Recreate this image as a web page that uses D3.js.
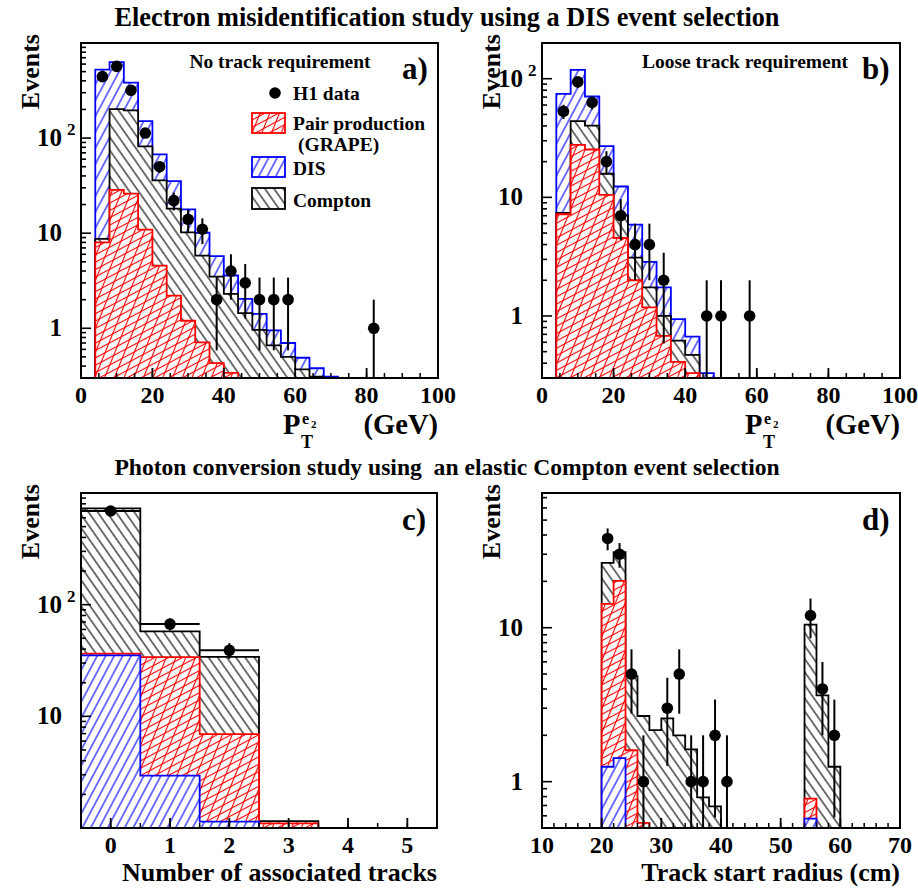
<!DOCTYPE html>
<html><head><meta charset="utf-8">
<script src="https://cdn.jsdelivr.net/npm/d3@7"></script>
<style>
body{margin:0;background:#fff}
text{font-family:"Liberation Serif","Times New Roman",serif;font-weight:bold;fill:#000}
</style>
</head><body>
<svg id="chart" width="918" height="890"></svg>
<script>
// ---------------- DATA ----------------
// Panel a: no track requirement, P_T of second electron (GeV), bins of 4 GeV
const aBinLo   = [4,8,12,16,20,24,28,32,36,40,44,48,52,56,60,64,68];
const aPair    = [8.0,28.6,26,10.9,4.57,2.21,1.2,0.71,0.43,0.34,0,0,0,0,0,0,0];
const aCompton = [0.7,173,170,71,31.3,15.9,9.0,5.1,3.07,1.96,1.44,0.96,0.66,0.5,0.37,0.31,0];
const aDIS     = [516,428,187,69,31.4,17.2,7.6,4.3,2.23,1.29,0.6,0.46,0.29,0.2,0.12,0.07,0.31];
const aDataX   = [6,10,14,18,22,26,30,34,38,42,46,50,54,58,82];
const aDataY   = [443,568,318,113,50,22,14,11,2,4,3,2,2,2,1];

// Panel b: loose track requirement
const bBinLo   = [4,8,12,16,20,24,28,32,36,40,44];
const bPair    = [7.2,27.7,25.3,10.5,4.54,2.0,1.18,0.68,0.41,0.33,0];
const bCompton = [0.2,16.2,15.0,5.3,2.5,1.1,0.56,0.32,0.21,0.14,0];
const bDIS     = [67,75,30.5,11.2,5.3,2.8,1.12,0.74,0.32,0.2,0.33];
const bDataX   = [6,10,14,18,22,26,30,34,46,50,58];
const bDataY   = [53,94,63,20,7,4,4,2,1,1,1];

// Panel c: number of associated tracks
const cTracks  = [0,1,2,3,4,5];
const cDIS     = [35.1,2.95,1.14,0,0,0];
const cPair    = [1.3,31,5.8,1.1,0,0];
const cCompton = [692,23.7,27.1,0.05,0,0];
const cDataX   = [0,1,2];
const cDataY   = [690,67,39];

// Panel d: track start radius (cm), bins of 2 cm
const dBinLo   = [20,22,24,26,28,30,32,34,36,38,40,42,44,46,48,50,52,54,56,58];
const dDIS     = [1.25,1.42,0,0,0,0,0,0,0,0,0,0,0,0,0,0,0,0.575,0,0];
const dPair    = [13.05,18.7,1.6,0.54,0,0,0,0,0,0,0,0,0,0,0,0,0,0.2,0,0];
const dCompton = [12.1,10.9,3.25,2.13,2.16,2.58,2.0,1.62,0.79,0.69,0,0,0,0,0,0,0,9.7,3.63,1.25];
const dDataX   = [21,23,25,27,31,33,35,37,39,41,55,57,59];
const dDataY   = [38,30,5,1,3,5,1,1,2,1,12,4,2];

// tick labels
const ptTicks     = [0,20,40,60,80,100];
const trackTicks  = [0,1,2,3,4,5];
const radiusTicks = [10,20,30,40,50,60,70];

// ---------------- STYLE ----------------
const svg = d3.select('#chart');
const defs = svg.append('defs');
function mkPattern(id,color,rot,sp,sw){
  const p = defs.append('pattern').attr('id',id).attr('patternUnits','userSpaceOnUse')
    .attr('width',sp).attr('height',sp).attr('patternTransform',`rotate(${rot})`);
  p.append('line').attr('x1',sp/2).attr('y1',-1).attr('x2',sp/2).attr('y2',sp+1)
    .attr('stroke',color).attr('stroke-width',sw);
}
mkPattern('hBlue','#0000ff',28,7.5,1.1);
mkPattern('hBlack','#000',-35,7.5,1.1);
mkPattern('hRed1','#ff0000',62,6.5,1.1);
mkPattern('hRed2','#ff0000',22,9,1.1);

const styles = {
  pair:    {color:'#ff0000', pats:['hRed1','hRed2']},
  dis:     {color:'#0000ff', pats:['hBlue']},
  compton: {color:'#000000', pats:['hBlack']}
};

const panels = [
 {id:'a', x0:81,x1:438,y0:43,y1:378, xdom:[0,100], ydom:[0.3,1000], bins:aBinLo, bw:4,
  stack:[['pair',aPair],['compton',aCompton],['dis',aDIS]], dx:aDataX, dy:aDataY, xerr:0,
  xt:ptTicks, xminor:5, clampZero:false},
 {id:'b', x0:542,x1:900,y0:43,y1:378, xdom:[0,100], ydom:[0.3,200], bins:bBinLo, bw:4,
  stack:[['pair',bPair],['compton',bCompton],['dis',bDIS]], dx:bDataX, dy:bDataY, xerr:0,
  xt:ptTicks, xminor:5, clampZero:false},
 {id:'c', x0:81,x1:437,y0:493,y1:828, xdom:[-0.5,5.5], ydom:[1,1000], bins:cTracks.map(t=>t-0.5), bw:1,
  stack:[['dis',cDIS],['pair',cPair],['compton',cCompton]], dx:cDataX, dy:cDataY, xerr:0.5,
  xt:trackTicks, xminor:0.5, clampZero:true},
 {id:'d', x0:542,x1:900,y0:493,y1:828, xdom:[10,70], ydom:[0.5,75], bins:dBinLo, bw:2,
  stack:[['dis',dDIS],['pair',dPair],['compton',dCompton]], dx:dDataX, dy:dDataY, xerr:0,
  xt:radiusTicks, xminor:2, clampZero:false}
];

panels.forEach(P=>{
  const x = d3.scaleLinear().domain(P.xdom).range([P.x0,P.x1]);
  const y = d3.scaleLog().domain(P.ydom).range([P.y1,P.y0]);
  const g = svg.append('g');
  defs.append('clipPath').attr('id','clip'+P.id).append('rect')
    .attr('x',P.x0).attr('y',P.y0).attr('width',P.x1-P.x0).attr('height',P.y1-P.y0);
  const pg = g.append('g').attr('clip-path',`url(#clip${P.id})`);

  // cumulative stacks
  let cum = P.bins.map(()=>0);
  const layers = P.stack.map(([k,vals])=>{
    cum = cum.map((c,i)=>c+vals[i]);
    return {k, cum:cum.slice()};
  });
  const area = d3.area().curve(d3.curveStepAfter)
    .x(d=>x(d[0])).y0(P.y1).y1(d=>y(Math.max(d[1],P.ydom[0])));
  layers.slice().reverse().forEach(L=>{
    const st = styles[L.k];
    const segs=[]; let cur=null;
    P.bins.forEach((lo,i)=>{
      let v = L.cum[i];
      if(!(v>1e-9)){ if(P.clampZero) v=P.ydom[0]; else {cur=null; return;} }
      if(!cur){cur=[];segs.push(cur);}
      cur.push([lo,v]);
    });
    segs.forEach(s=>{
      const last = s[s.length-1];
      const pts = s.concat([[last[0]+P.bw,last[1]]]);
      const d = area(pts);
      pg.append('path').attr('d',d).attr('fill','#fff');
      st.pats.forEach(pid=>pg.append('path').attr('d',d).attr('fill',`url(#${pid})`));
      pg.append('path').attr('d',d).attr('fill','none').attr('stroke',st.color)
        .attr('stroke-width',1.8).attr('stroke-linejoin','miter');
    });
  });

  // data points
  P.dx.forEach((xv,i)=>{
    const n = P.dy[i], e = Math.sqrt(n);
    const lo = n-e;
    pg.append('line').attr('x1',x(xv)).attr('x2',x(xv))
      .attr('y1', lo>P.ydom[0]*0.5 ? y(Math.max(lo,P.ydom[0]*0.5)) : P.y1+5).attr('y2',y(n+e))
      .attr('stroke','#000').attr('stroke-width',2);
    if(P.xerr>0){
      pg.append('line').attr('x1',x(xv-P.xerr)).attr('x2',x(xv+P.xerr))
        .attr('y1',y(n)).attr('y2',y(n)).attr('stroke','#000').attr('stroke-width',2);
    }
    pg.append('circle').attr('cx',x(xv)).attr('cy',y(n)).attr('r',5.8).attr('fill','#000');
  });

  // frame
  g.append('rect').attr('x',P.x0).attr('y',P.y0).attr('width',P.x1-P.x0).attr('height',P.y1-P.y0)
    .attr('fill','none').attr('stroke','#000').attr('stroke-width',2);

  // x ticks
  const xminors = d3.range(P.xdom[0], P.xdom[1]+1e-9, P.xminor)
    .filter(v=>v>P.xdom[0]+1e-9 && v<P.xdom[1]-1e-9);
  xminors.forEach(v=>{
    g.append('line').attr('x1',x(v)).attr('x2',x(v)).attr('y1',P.y1).attr('y2',P.y1-5)
      .attr('stroke','#000').attr('stroke-width',1.5);
  });
  P.xt.forEach(v=>{
    g.append('line').attr('x1',x(v)).attr('x2',x(v)).attr('y1',P.y1).attr('y2',P.y1-10)
      .attr('stroke','#000').attr('stroke-width',1.8);
    g.append('text').attr('x',x(v)).attr('y',P.y1+25).attr('text-anchor','middle')
      .attr('font-size',24).text(v);
  });

  // y ticks (log)
  y.ticks().forEach(v=>{
    const lg = Math.log10(v);
    const major = Math.abs(lg-Math.round(lg))<1e-6;
    const py = y(v);
    g.append('line').attr('x1',P.x0).attr('x2',P.x0+(major?10:5)).attr('y1',py).attr('y2',py)
      .attr('stroke','#000').attr('stroke-width',1.6);
    if(major && py>P.y0+3 && py<P.y1-3){
      const p = Math.round(lg);
      if(p<=1){
        g.append('text').attr('x',P.x0-19).attr('y',py+8).attr('text-anchor','end')
          .attr('font-size',25).text(v===1?'1':'10');
      } else {
        g.append('text').attr('x',P.x0-19).attr('y',py+8).attr('text-anchor','end')
          .attr('font-size',25).text('10');
        g.append('text').attr('x',P.x0-14).attr('y',py-3).attr('text-anchor','start')
          .attr('font-size',17).text(String(p));
      }
    }
  });

  // y title
  g.append('text').attr('transform',`translate(${P.x0-42},${P.y0-9}) rotate(-90)`)
    .attr('text-anchor','end').attr('font-size',26).text('Events');
});

// ---------------- TEXT ----------------
svg.append('text').attr('x',447).attr('y',26).attr('text-anchor','middle').attr('font-size',26.3)
  .text('Electron misidentification study using a DIS event selection');
svg.append('text').attr('x',447).attr('y',475).attr('text-anchor','middle').attr('font-size',23.6)
  .text('Photon conversion study using\u00a0\u00a0an elastic Compton event selection');

// x titles for pT panels
[438,900].forEach(xr=>{
  const t = svg.append('g');
  t.append('text').attr('x',xr-155).attr('y',434).attr('font-size',28.5).text('P');
  t.append('text').attr('x',xr-137).attr('y',448).attr('font-size',18).text('T');
  t.append('text').attr('x',xr-136).attr('y',424).attr('font-size',16).text('e');
  t.append('text').attr('x',xr-127).attr('y',428).attr('font-size',11).text('2');
  t.append('text').attr('x',xr).attr('y',434).attr('text-anchor','end').attr('font-size',28.5).text('(GeV)');
});
svg.append('text').attr('x',437).attr('y',881).attr('text-anchor','end').attr('font-size',26)
  .text('Number of associated tracks');
svg.append('text').attr('x',900).attr('y',881).attr('text-anchor','end').attr('font-size',26)
  .text('Track start radius (cm)');

// panel labels
svg.append('text').attr('x',280).attr('y',68).attr('text-anchor','middle').attr('font-size',19.5).text('No track requirement');
svg.append('text').attr('x',745).attr('y',68).attr('text-anchor','middle').attr('font-size',19.5).text('Loose track requirement');
[['a)',402,79],['b)',862,79],['c)',402,530],['d)',862,530]].forEach(([s,xx,yy])=>{
  svg.append('text').attr('x',xx).attr('y',yy).attr('font-size',31).text(s);
});

// legend (panel a)
const lg = svg.append('g');
lg.append('circle').attr('cx',275).attr('cy',93).attr('r',5.8).attr('fill','#000');
lg.append('text').attr('x',293).attr('y',100).attr('font-size',19.5).text('H1 data');
const legItems = [['pair',113,20,'Pair production',130],['dis',157,20,'DIS',175],['compton',188,21,'Compton',207]];
legItems.forEach(([k,yy,hh,lbl,ty])=>{
  const st = styles[k];
  lg.append('rect').attr('x',252).attr('y',yy).attr('width',33).attr('height',hh).attr('fill','#fff');
  st.pats.forEach(pid=>lg.append('rect').attr('x',252).attr('y',yy).attr('width',33).attr('height',hh).attr('fill',`url(#${pid})`));
  lg.append('rect').attr('x',252).attr('y',yy).attr('width',33).attr('height',hh).attr('fill','none')
    .attr('stroke',st.color).attr('stroke-width',1.8);
  lg.append('text').attr('x',293).attr('y',ty).attr('font-size',19.5).text(lbl);
});
lg.append('text').attr('x',298).attr('y',151).attr('font-size',19.5).text('(GRAPE)');
</script>
</body></html>
